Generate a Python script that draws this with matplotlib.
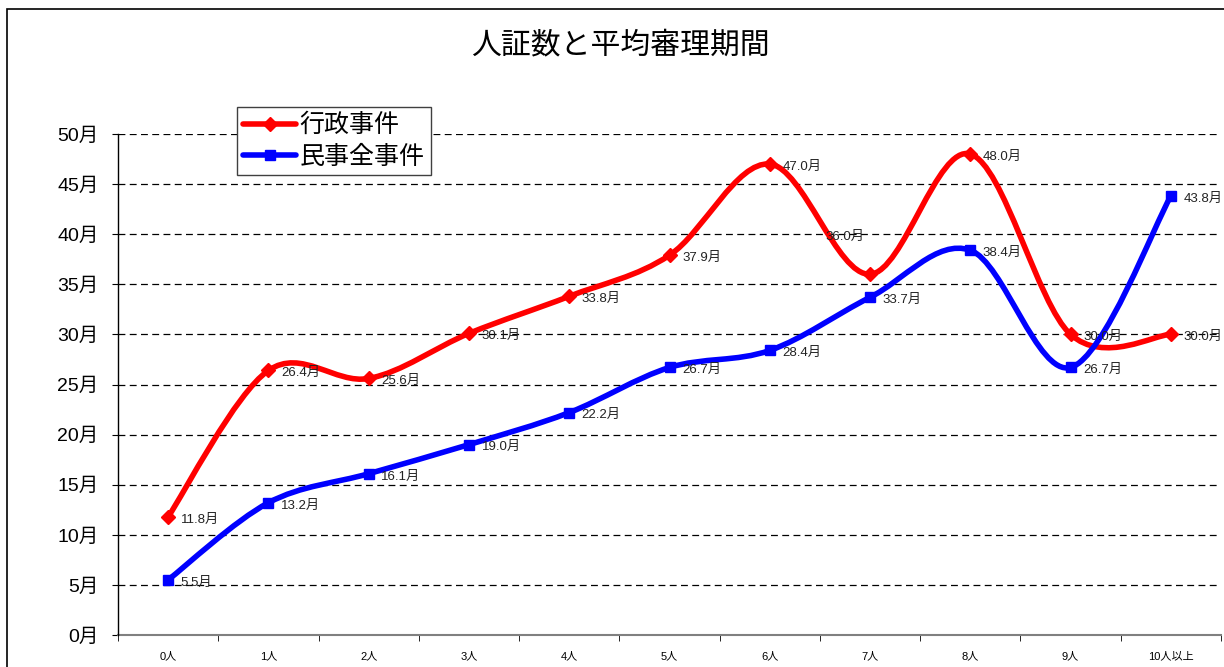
import numpy as np
import matplotlib.pyplot as plt
from matplotlib.path import Path
from matplotlib.patches import PathPatch, Rectangle
from matplotlib.lines import Line2D

plt.rcParams['font.family'] = ['Liberation Sans', 'Noto Sans CJK JP', 'DejaVu Sans']

# data
categories = ['0人', '1人', '2人', '3人', '4人', '5人', '6人', '7人', '8人', '9人', '10人以上']
gyosei = [11.8, 26.4, 25.6, 30.1, 33.8, 37.9, 47.0, 36.0, 48.0, 30.0, 30.0]
minji = [5.5, 13.2, 16.1, 19.0, 22.2, 26.7, 28.4, 33.7, 38.4, 26.7, 43.8]
yticks = [0, 5, 10, 15, 20, 25, 30, 35, 40, 45, 50]


def smooth_path(xs, ys):
    # Excel-style smoothed line: cubic bezier segments through every point
    pts = np.column_stack([xs, ys]).astype(float)
    n = len(pts)
    verts = [pts[0]]
    codes = [Path.MOVETO]
    for i in range(n - 1):
        p_prev = pts[i - 1] if i > 0 else pts[i]
        p_next = pts[i + 2] if i + 2 < n else pts[i + 1]
        c1 = pts[i] + (pts[i + 1] - p_prev) / 6
        c2 = pts[i + 1] - (p_next - pts[i]) / 6
        verts += [c1, c2, pts[i + 1]]
        codes += [Path.CURVE4] * 3
    return Path(verts, codes)


fig = plt.figure(figsize=(12.24, 6.67), dpi=100)
ax = fig.add_axes([118 / 1224, 1 - 635 / 667, 1103 / 1224, 501 / 667])

x = np.arange(len(categories))

series = [
    (gyosei, 'red', 'D', 7.5, '行政事件'),
    (minji, 'blue', 's', 7.5, '民事全事件'),
]
handles = []
for vals, col, mk, ms, name in series:
    ax.add_patch(PathPatch(smooth_path(x, vals), facecolor='none', edgecolor=col,
                           lw=4, capstyle='round', joinstyle='round', zorder=3))
    ax.plot(x, vals, linestyle='none', marker=mk, color=col, markersize=ms, zorder=4)
    handles.append(Line2D([], [], color=col, lw=4, marker=mk, markersize=ms,
                          solid_capstyle='round', label=name))

# data labels
for vals in (gyosei, minji):
    for i, v in enumerate(vals):
        off = (9, -2)
        ha = 'left'
        if vals is gyosei and i == 7:
            off = (-4, 27)
            ha = 'right'
        ax.annotate(f'{v:.1f}月', (x[i], v), xytext=off, textcoords='offset points',
                    ha=ha, va='center', fontsize=9.5, color='#222222', zorder=5)

ax.set_xlim(-0.5, len(categories) - 0.5)
ax.set_ylim(0, 50)
ax.set_yticks(yticks)
ax.set_yticklabels([f'{t}月' for t in yticks], fontsize=14)
ax.set_xticks(x)
ax.set_xticklabels(categories, fontsize=8)
ax.set_xticks(np.arange(len(categories) + 1) - 0.5, minor=True)
ax.tick_params(axis='x', which='major', length=0, pad=12)
ax.tick_params(axis='x', which='minor', length=4, direction='out', color='black')
ax.tick_params(axis='y', length=4, direction='out', pad=10, color='black')

ax.grid(axis='y', color='black', lw=0.9, linestyle=(0, (5.5, 3.5)))
ax.set_axisbelow(True)
for s in ('top', 'right'):
    ax.spines[s].set_visible(False)
ax.spines['left'].set_color('black')
ax.spines['left'].set_linewidth(1)
ax.spines['bottom'].set_color('#808080')
ax.spines['bottom'].set_linewidth(1.5)
ax.spines['bottom'].set_zorder(2)

fig.text(620 / 1224, 1 - 45 / 667, '人証数と平均審理期間', ha='center', va='center', fontsize=21.5)

fig.legend(handles=handles, loc='upper left', bbox_to_anchor=(237 / 1224, 1 - 107 / 667),
           fontsize=18, frameon=True, fancybox=False, edgecolor='#404040', framealpha=1,
           handlelength=2.1, handletextpad=0.15, labelspacing=0.3, borderpad=0.25,
           borderaxespad=0, numpoints=1)

# outer chart-area frame
fig.add_artist(Rectangle((7 / 1224, -0.1), 1.2, 1.1 - 9 / 667, transform=fig.transFigure,
                         fill=False, edgecolor='black', lw=1.2))

fig.savefig('out.png', dpi=100)
